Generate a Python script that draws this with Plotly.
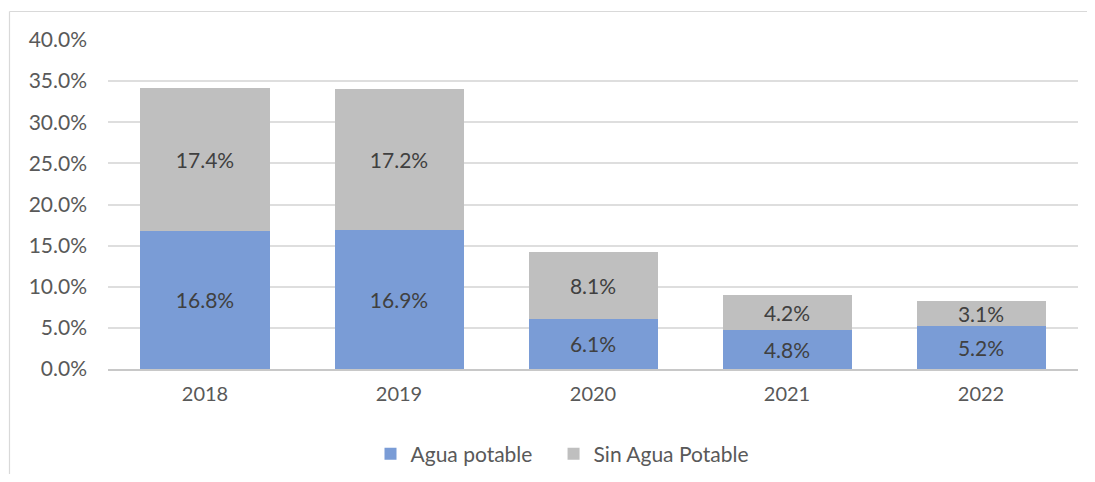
import plotly.graph_objects as go

years = ["2018", "2019", "2020", "2021", "2022"]
agua_potable = [16.8, 16.9, 6.1, 4.8, 5.2]
sin_agua_potable = [17.4, 17.2, 8.1, 4.2, 3.1]
y_ticks = [0, 5, 10, 15, 20, 25, 30, 35, 40]
y_tick_labels = [f"{v:.1f}%" for v in y_ticks]

FONT = "Lato, 'Open Sans', sans-serif"
OFF = 8  # page body margin
W, H = 1095 - 2 * OFF, 482 - 2 * OFF
ml, mt = 108 - OFF, 40 - OFF
mr = W - ml - 970
mb = H - mt - 329

fig = go.Figure()
fig.add_trace(go.Bar(
    x=years, y=agua_potable, name="Agua potable   ",
    marker=dict(color="#7a9cd6", line=dict(width=0)),
    text=[f"{v:.1f}%" for v in agua_potable],
    textposition="inside", insidetextanchor="middle", constraintext="none",
    textfont=dict(family=FONT, size=21, color="#404040"),
    hoverinfo="skip",
))
fig.add_trace(go.Bar(
    x=years, y=sin_agua_potable, name="Sin Agua Potable",
    marker=dict(color="#bfbfbf", line=dict(width=0)),
    text=[f"{v:.1f}%" for v in sin_agua_potable],
    textposition="inside", insidetextanchor="middle", constraintext="none",
    textfont=dict(family=FONT, size=21, color="#404040"),
    hoverinfo="skip",
))

pw = W - ml - mr
ph = H - mt - mb
bx, by = 9.5 - OFF, 11.5 - OFF
px0 = (bx - ml) / pw
px1 = (W + 30 - ml) / pw
py_top = (H - by - mb) / ph
py_bot = -(H + 30 - mt - ph) / ph
border = dict(color="#d9d9d9", width=1.2)
fig.add_shape(type="line", xref="paper", yref="paper",
              x0=px0, x1=px1, y0=py_top, y1=py_top, line=border, layer="below")
fig.add_shape(type="line", xref="paper", yref="paper",
              x0=px0, x1=px0, y0=py_bot, y1=py_top, line=border, layer="below")

fig.update_layout(
    width=W, height=H,
    margin=dict(l=ml, r=mr, t=mt, b=mb),
    barmode="stack", bargap=0.335,
    plot_bgcolor="white", paper_bgcolor="white",
    font=dict(family=FONT, size=21, color="#595959"),
    showlegend=True,
    legend=dict(orientation="h", xref="container", x=(562 - OFF) / W, xanchor="center",
                yref="container", y=1 - (454 - OFF) / H, yanchor="middle",
                font=dict(family=FONT, size=21, color="#595959"),
                itemwidth=30, traceorder="normal"),
    xaxis=dict(showgrid=False, showline=True, linecolor="#c8c8c8", linewidth=1.5,
               ticks="", tickfont=dict(family=FONT, size=20, color="#595959"),
               ticklabelstandoff=6, layer="above traces"),
    yaxis=dict(range=[0, 40], tickvals=y_ticks, ticktext=y_tick_labels,
               showgrid=True, gridcolor="rgba(0,0,0,0.13)", gridwidth=1.5,
               zeroline=False, showline=False, ticks="",
               ticklabelstandoff=20,
               tickfont=dict(family=FONT, size=21, color="#595959"),
               layer="above traces"),
)

fig.write_html("out.html")
